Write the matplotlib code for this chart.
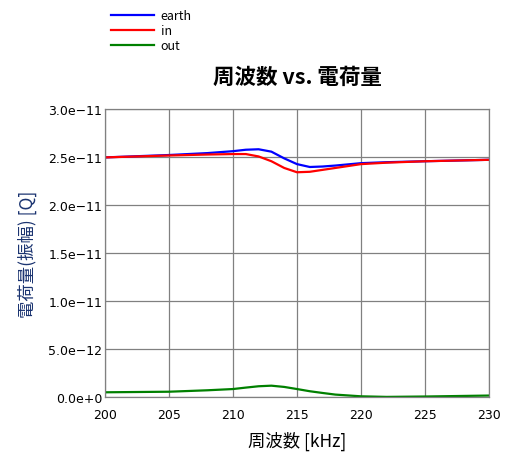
import numpy as np
import matplotlib
matplotlib.use("Agg")
from matplotlib import pyplot as plt

plt.rcParams['font.family'] = ['Noto Sans CJK JP', 'DejaVu Sans']

# frequency [kHz]
freq = [200, 205, 208, 210, 211, 212, 213, 214, 215, 216, 217, 218, 220, 222, 225, 230]
# charge amplitude [Q] (x1e-11 for earth / in, x1e-13 for out)
earth = [2.50, 2.525, 2.545, 2.565, 2.58, 2.585, 2.56, 2.49, 2.43, 2.40, 2.405, 2.415, 2.44, 2.45, 2.46, 2.475]
inp = [2.50, 2.52, 2.53, 2.535, 2.535, 2.51, 2.46, 2.39, 2.345, 2.35, 2.37, 2.39, 2.43, 2.445, 2.46, 2.475]
out = [4.9, 5.5, 7.0, 8.3, 9.8, 11.2, 11.8, 10.5, 8.3, 6.0, 4.2, 2.5, 0.7, 0.1, 0.5, 1.5]

yticks = [0, 5e-12, 1e-11, 1.5e-11, 2e-11, 2.5e-11, 3e-11]
ytick_labels = ['0.0e+0', '5.0e\u221212', '1.0e\u221211', '1.5e\u221211', '2.0e\u221211', '2.5e\u221211', '3.0e\u221211']
xticks = [200, 205, 210, 215, 220, 225, 230]

fig = plt.figure(figsize=(5.2, 4.6), dpi=100)
ax = fig.add_axes([0.2019, 0.1348, 0.7385, 0.625])

ax.plot(freq, np.array(earth) * 1e-11, color='#0000ff', lw=1.6, label='earth')
ax.plot(freq, np.array(inp) * 1e-11, color='#ff0000', lw=1.6, label='in')
ax.plot(freq, np.array(out) * 1e-13, color='#008000', lw=1.6, label='out')

ax.set_xlim(200, 230)
ax.set_ylim(0, 3e-11)
ax.set_xticks(xticks)
ax.set_xticklabels([str(t) for t in xticks], fontsize=9, family='DejaVu Sans')
ax.set_yticks(yticks)
ax.set_yticklabels(ytick_labels, fontsize=9, family='DejaVu Sans')
ax.tick_params(axis='y', length=0, pad=2)
ax.tick_params(axis='x', length=0, pad=8)
ax.grid(True, color='#808080', lw=0.9)
for s in ax.spines.values():
    s.set_color('#808080')
    s.set_linewidth(0.9)

ax.set_xlabel('周波数 [kHz]', fontsize=12.5, labelpad=7)
ax.set_ylabel('電荷量(振幅) [Q]', fontsize=12.5, color='#1a3370', labelpad=8)
ax.set_title('周波数 vs. 電荷量', fontsize=15.5, fontweight='bold', pad=19)

fig.legend(loc='upper left', bbox_to_anchor=(0.197, 0.995), frameon=False,
           fontsize=9, handlelength=3.5, handletextpad=0.5, labelspacing=0.15,
           borderaxespad=0.25)

fig.savefig('out.png', dpi=100)
